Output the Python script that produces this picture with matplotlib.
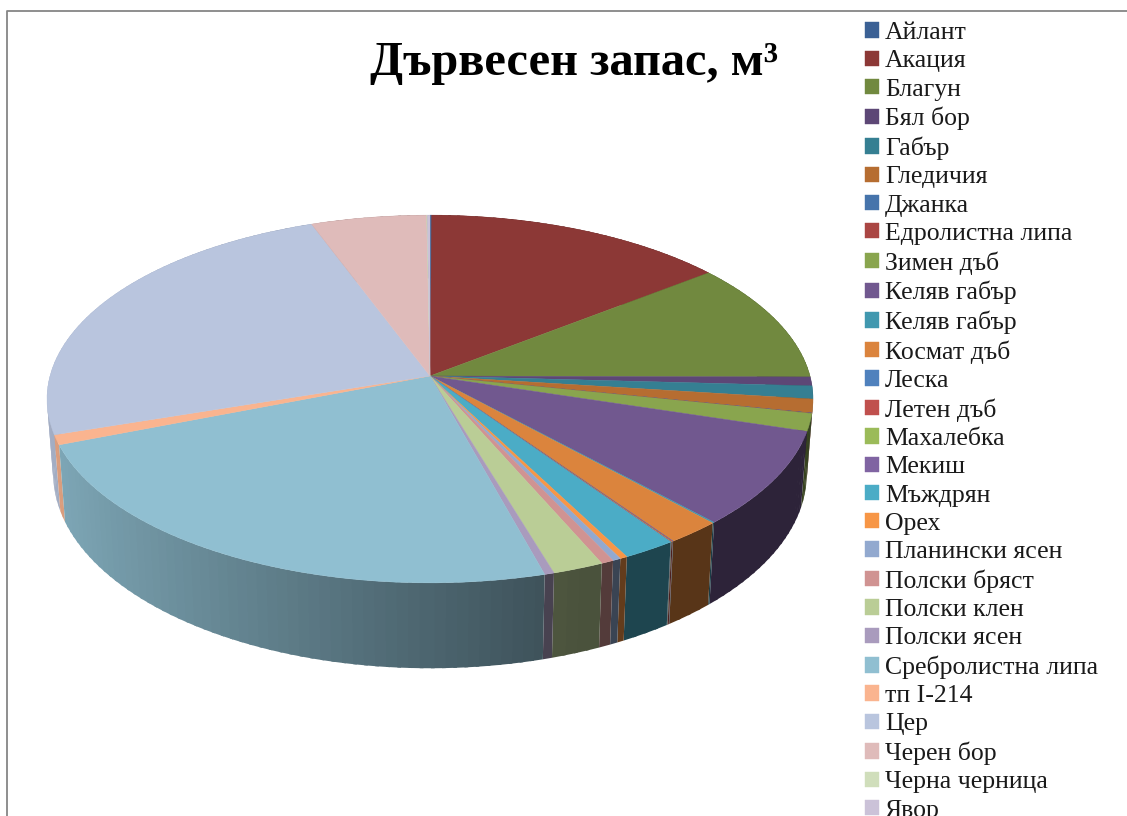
#!/usr/bin/env python3
"""3D pie of timber stock per tree species."""

import numpy as np
import matplotlib
matplotlib.use("Agg")
import matplotlib.pyplot as plt
from matplotlib.collections import PolyCollection
from matplotlib.colors import to_rgb
from matplotlib.transforms import Transform

species = [
    "Айлант", "Акация", "Благун", "Бял бор", "Габър", "Гледичия", "Джанка",
    "Едролистна липа", "Зимен дъб", "Келяв габър", "Келяв габър", "Космат дъб",
    "Леска", "Летен дъб", "Махалебка", "Мекиш", "Мъждрян", "Орех",
    "Планински ясен", "Полски бряст", "Полски клен", "Полски ясен",
    "Сребролистна липа", "тп I-214", "Цер", "Черен бор", "Черна черница", "Явор",
]
stock = [
    0.08, 14.4, 10.6, 0.78, 1.14, 1.19, 0.02, 0.02, 1.53, 8.36, 0.08, 2.06,
    0.02, 0.06, 0.02, 0.02, 2.0, 0.28, 0.31, 0.47, 1.92, 0.36, 23.36, 0.86,
    24.39, 5.5, 0.03, 0.13,
]
colors = [
    "#3B6195", "#8C3836", "#71893F", "#5D4776", "#357F92", "#B66D31", "#4674AB",
    "#AA4643", "#89A54E", "#71588F", "#4198AF", "#DB843D", "#4F81BD", "#C0504D",
    "#9BBB59", "#8064A2", "#4BACC6", "#F79646", "#92A9CF", "#D09392", "#BACD96",
    "#A99BBD", "#90BFD1", "#FAB48F", "#B9C5DE", "#DFBBBA", "#D0DEBB", "#CBC2D8",
]

# perspective of the disc, in image pixels
CX, CY = 430, 376
RX, RY = 380, 181
K = 0.125


def project(u, v):
    s = 1 / (1 + K * v)
    return CX + RX * u * s, CY - RY * v * s


def drop(x, y):
    # top rim -> bottom rim
    return CX + 0.984 * (x - CX), CY + 73 + 1.06 * (y - CY)


def wall_shade(u):
    return np.clip(0.42 + 0.46 * (0.29 - u) / 1.25, 0.4, 0.9)


class Perspective(Transform):
    input_dims = output_dims = 2

    def transform_non_affine(self, values):
        x, y = project(values[:, 0], values[:, 1])
        return np.column_stack([x, y])


fig = plt.figure(figsize=(11.27, 8.16), dpi=100)
ax = fig.add_axes([0, 0, 1, 1])
plt.rcParams["font.family"] = ["Liberation Serif", "DejaVu Sans"]

wedges, _ = ax.pie(stock, colors=colors, startangle=90, counterclock=False,
                   wedgeprops={"linewidth": 0.3, "zorder": 3})
ax.set_aspect("auto")
ax.set_xlim(0, 1127)
ax.set_ylim(816, 0)
ax.axis("off")

persp = Perspective() + ax.transData
for w in wedges:
    w.set_transform(persp)
    w.set_edgecolor(w.get_facecolor())

# side wall, cut in narrow strips so the shading can run along it
quads, shades = [], []
for w, col in zip(wedges, colors):
    n = max(1, int((w.theta2 - w.theta1) / 1.5))
    angles = np.linspace(w.theta1, w.theta2, n + 1)
    base = np.array(to_rgb(col))
    for d0, d1 in zip(angles[:-1], angles[1:]):
        # strips overlap a little, otherwise the seams show up
        a0 = np.radians(max(d0 - 0.25, w.theta1))
        a1 = np.radians(min(d1 + 0.25, w.theta2))
        x0, y0 = project(np.cos(a0), np.sin(a0))
        x1, y1 = project(np.cos(a1), np.sin(a1))
        um = np.cos((a0 + a1) / 2)
        quads.append([(x0, y0), (x1, y1), drop(x1, y1), drop(x0, y0)])
        shades.append((y0 + y1, base * wall_shade(um)))

order = np.argsort([s[0] for s in shades])
walls = PolyCollection([quads[i] for i in order],
                       facecolors=[shades[i][1] for i in order],
                       edgecolors="none", linewidths=0, zorder=2)
ax.add_collection(walls)

ax.plot([7, 7, 1127], [816, 11, 11], color="#868686", lw=1.3, zorder=1)

ax.text(574, 75, "Дървесен запас, м³", ha="center", va="baseline", fontsize=34.8,
        fontweight="bold", color="black", family=["Liberation Serif", "DejaVu Serif"])

ax.legend(wedges, species, loc="upper left", bbox_to_anchor=(860, 17),
          bbox_transform=ax.transData, frameon=False, ncols=1,
          handlelength=0.54, handleheight=0.54, handletextpad=0.24,
          labelspacing=0.243, borderpad=0.2, borderaxespad=0, labelcolor="#1a1a1a",
          prop={"family": ["Liberation Serif", "DejaVu Serif"], "size": 18.5})

fig.savefig("out.png", dpi=100, facecolor="white")
